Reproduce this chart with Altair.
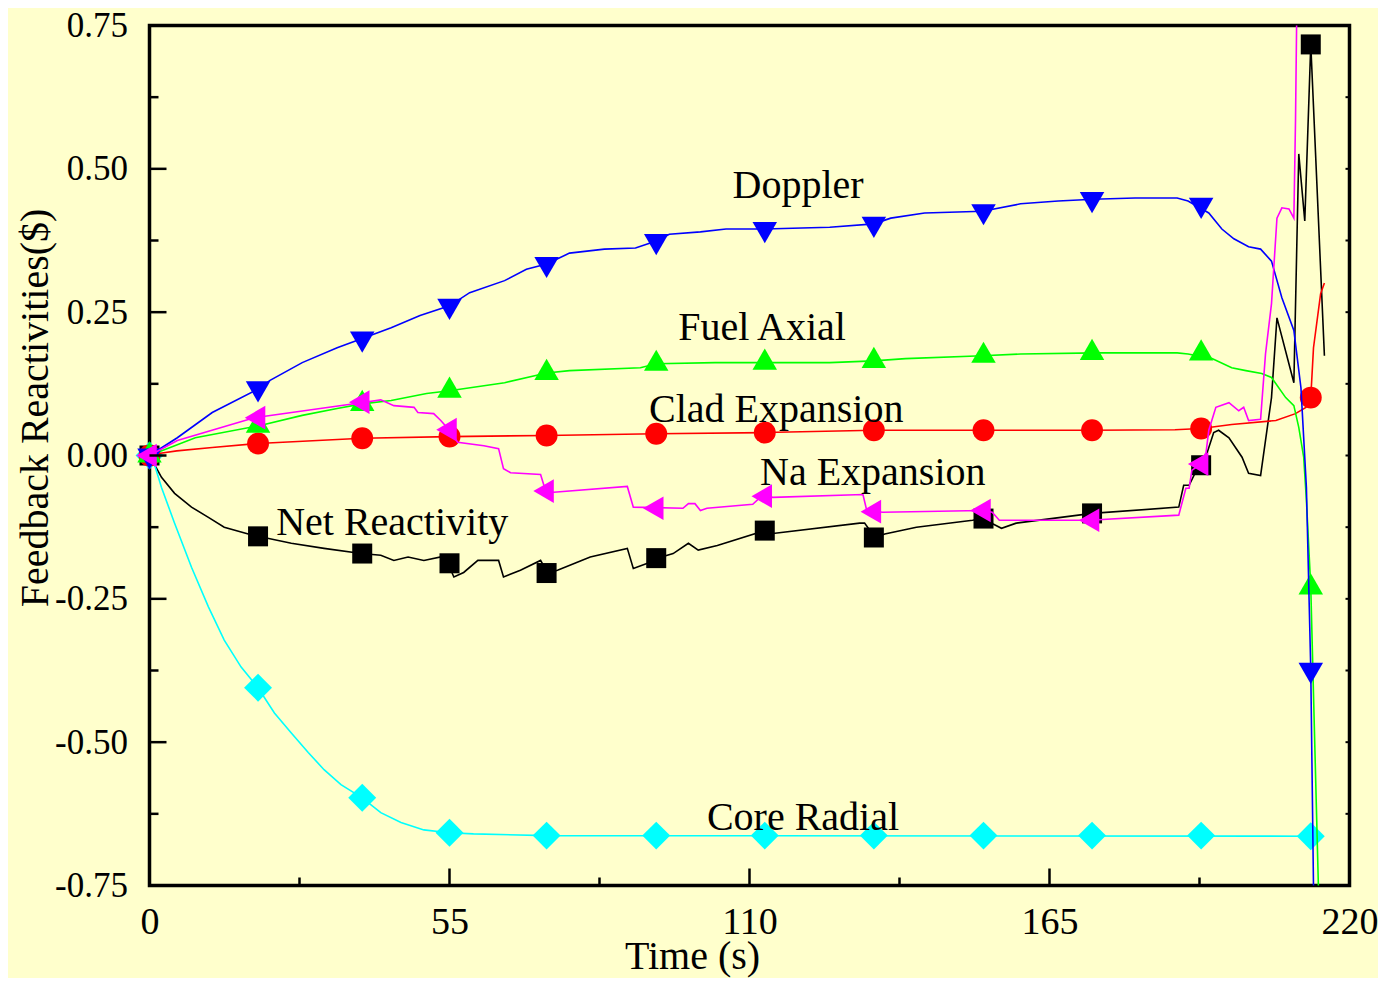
import altair as alt
import pandas as pd

# ---------------- data ----------------
# marker grid (time, s)
mk_t = [0, 19.9, 39.0, 55.0, 72.8, 92.9, 112.8, 132.8, 152.9, 172.8, 192.8, 212.9]

# Doppler
dop_t = [0, 5.1, 11.5, 20.1, 22.1, 28.0, 34.4, 39.0, 44.3, 49.6, 55.0, 58.7, 65.1, 69.1, 72.8, 77.0,
         83.4, 89.1, 92.9, 95.3, 101.0, 105.7, 112.8, 124.7, 132.8, 135.9, 142.1, 152.7, 159.7, 166.6,
         173.0, 180.7, 188.4, 190.4, 194.2, 196.6, 198.8, 201.5, 203.7, 205.7, 207.6, 209.8, 211.1,
         212.1, 212.9, 213.4]
dop_v = [0, 0.031, 0.075, 0.117, 0.131, 0.162, 0.188, 0.204, 0.223, 0.244, 0.261, 0.284, 0.305, 0.325,
         0.334, 0.353, 0.360, 0.362, 0.374, 0.386, 0.390, 0.395, 0.395, 0.398, 0.404, 0.414, 0.423,
         0.426, 0.439, 0.444, 0.447, 0.449, 0.449, 0.444, 0.423, 0.395, 0.378, 0.364, 0.360, 0.339,
         0.275, 0.218, 0.118, -0.056, -0.374, -0.752]
dop_mk = [0, 0.117, 0.204, 0.261, 0.334, 0.374, 0.395, 0.404, 0.426, 0.447, 0.437, -0.374]

# Fuel Axial
fa_t = [0, 8.4, 20.1, 28.0, 34.4, 39.0, 44.3, 50.8, 55.0, 65.1, 72.8, 77.0, 90.0, 92.9, 103.7, 124.7,
        132.8, 138.6, 152.7, 159.7, 173.6, 188.4, 190.4, 194.8, 198.4, 201.0, 203.9, 205.7, 208.3,
        209.8, 210.7, 211.6, 212.1, 212.9, 214.3]
fa_v = [0, 0.031, 0.052, 0.070, 0.082, 0.090, 0.096, 0.108, 0.113, 0.127, 0.144, 0.148, 0.153, 0.160,
        0.162, 0.162, 0.165, 0.169, 0.174, 0.177, 0.179, 0.179, 0.177, 0.169, 0.153, 0.148, 0.143,
        0.136, 0.101, 0.087, 0.049, -0.003, -0.078, -0.230, -0.752]
fa_mk = [0, 0.052, 0.090, 0.113, 0.144, 0.160, 0.162, 0.165, 0.174, 0.179, 0.178, -0.230]

# Clad Expansion
ce_t = [0, 2.0, 5.0, 11.5, 19.9, 39.0, 54.9, 72.8, 92.9, 112.8, 132.8, 152.9, 172.8, 188.0, 192.8,
        198.4, 206.5, 210.1, 212.0, 212.9, 213.4, 214.7, 215.4]
ce_v = [0, 0.004, 0.008, 0.014, 0.021, 0.030, 0.033, 0.035, 0.038, 0.040, 0.044, 0.044, 0.044, 0.045,
        0.047, 0.054, 0.061, 0.073, 0.084, 0.101, 0.188, 0.282, 0.301]
ce_mk = [0, 0.021, 0.030, 0.033, 0.035, 0.038, 0.040, 0.044, 0.044, 0.044, 0.047, 0.101]

# Na Expansion
na_t = [0, 5.1, 19.2, 38.8, 42.4, 44.8, 48.5, 49.2, 52.1, 53.4, 54.7, 56.5, 61.3, 64.0, 64.9, 66.2,
        71.7, 72.6, 74.1, 87.6, 88.7, 97.8, 98.8, 100.0, 101.0, 102.2, 110.6, 112.3, 114.3, 130.8,
        131.5, 134.4, 152.5, 154.5, 155.8, 172.3, 188.7, 190.0, 190.6, 191.1, 192.4, 193.7, 194.2,
        195.5, 197.9, 199.7, 200.6, 201.5, 203.7, 204.6, 205.7, 206.7, 207.6, 208.9, 209.8, 210.1,
        210.3, 210.5]
na_v = [0, 0.026, 0.066, 0.092, 0.097, 0.087, 0.084, 0.075, 0.073, 0.061, 0.047, 0.023, 0.017, 0.012,
        -0.023, -0.030, -0.033, -0.061, -0.064, -0.054, -0.090, -0.092, -0.084, -0.084, -0.096,
        -0.092, -0.085, -0.070, -0.073, -0.068, -0.096, -0.099, -0.096, -0.099, -0.113, -0.113,
        -0.104, -0.057, -0.057, -0.026, -0.017, 0.005, 0.044, 0.084, 0.092, 0.078, 0.084, 0.061,
        0.063, 0.177, 0.265, 0.414, 0.432, 0.430, 0.414, 0.583, 0.748, 0.800]
na_mk_t = [0, 19.9, 39.0, 55.0, 72.8, 92.9, 112.8, 132.8, 152.9, 172.8, 192.8]
na_mk = [0, 0.066, 0.093, 0.045, -0.062, -0.092, -0.071, -0.098, -0.096, -0.113, -0.015]

# Net Reactivity
nr_t = [0, 2.2, 4.6, 7.7, 10.8, 13.7, 18.1, 19.9, 26.0, 32.0, 38.8, 42.4, 44.8, 47.4, 50.3, 53.4,
        54.7, 55.8, 57.6, 60.2, 64.0, 64.9, 68.0, 71.7, 73.0, 74.8, 80.8, 87.6, 88.7, 91.3, 93.1,
        96.0, 98.8, 100.6, 104.1, 112.8, 114.3, 130.2, 131.1, 133.0, 134.8, 140.6, 150.9, 152.7,
        156.2, 158.9, 172.8, 188.7, 189.6, 190.6, 192.4, 193.9, 195.1, 196.0, 197.9, 200.3, 201.5,
        203.7, 205.7, 206.7, 209.8, 210.7, 211.8, 212.9, 215.4]
nr_v = [0, -0.038, -0.066, -0.090, -0.108, -0.125, -0.137, -0.141, -0.153, -0.162, -0.171, -0.174,
        -0.183, -0.177, -0.183, -0.177, -0.188, -0.212, -0.204, -0.183, -0.183, -0.212, -0.200,
        -0.183, -0.205, -0.200, -0.177, -0.162, -0.197, -0.188, -0.179, -0.171, -0.153, -0.165,
        -0.157, -0.131, -0.136, -0.118, -0.118, -0.143, -0.137, -0.125, -0.113, -0.110, -0.127,
        -0.118, -0.101, -0.090, -0.052, -0.052, -0.017, 0.005, 0.040, 0.044, 0.031, -0.003, -0.031,
        -0.035, 0.101, 0.240, 0.127, 0.526, 0.409, 0.717, 0.174]
nr_mk = [0, -0.141, -0.171, -0.188, -0.205, -0.179, -0.131, -0.143, -0.110, -0.101, -0.017, 0.717]

# Core Radial
cr_t = [0, 0.7, 2.2, 4.6, 7.7, 10.8, 13.7, 16.8, 19.9, 22.9, 26.0, 29.1, 32.0, 35.1, 39.0, 42.4,
        46.1, 50.3, 54.9, 59.4, 72.8, 212.9]
cr_v = [0, -0.009, -0.056, -0.118, -0.195, -0.264, -0.322, -0.369, -0.405, -0.449, -0.484, -0.518,
        -0.548, -0.574, -0.597, -0.623, -0.640, -0.653, -0.658, -0.660, -0.663, -0.664]
cr_mk = [0, -0.405, -0.597, -0.658, -0.663, -0.663, -0.663, -0.663, -0.663, -0.663, -0.663, -0.664]

# annotations
ann_text = ["Doppler", "Fuel Axial", "Clad Expansion", "Na Expansion", "Net Reactivity", "Core Radial"]
ann_t = [118.9, 112.3, 114.9, 132.6, 44.5, 119.8]
ann_v = [0.449, 0.201, 0.059, -0.051, -0.139, -0.653]

# axis ticks
xt_major = [0, 55, 110, 165, 220]
xt_minor = [27.5, 82.5, 137.5, 192.5]
yt_major = [-0.75, -0.5, -0.25, 0.0, 0.25, 0.5, 0.75]
yt_minor = [-0.625, -0.375, -0.125, 0.125, 0.375, 0.625]

# ---------------- chart ----------------
W, H = 1200, 860
FONT = "Liberation Serif"
BG = "#FFFFCC"

xs = alt.Scale(domain=[0, 220], nice=False, zero=False)
ys = alt.Scale(domain=[-0.75, 0.75], nice=False, zero=False)

x_axis = alt.Axis(values=xt_major, grid=False, domain=False, ticks=False, tickSize=0,
                  labelFont=FONT, labelFontSize=38, labelColor="black", labelPadding=48,
                  labelBaseline="alphabetic", labelFlush=False, labelOverlap=False, labelBound=False,
                  title="Time (s)", titleFont=FONT, titleFontSize=40, titleFontWeight="normal",
                  titleColor="black", titleX=542.5, titleY=83, titleAlign="center",
                  titleBaseline="alphabetic", format="d")
y_axis = alt.Axis(values=yt_major, grid=False, domain=False, ticks=False, tickSize=0,
                  labelFont=FONT, labelFontSize=35, labelColor="black", labelPadding=22,
                  labelBaseline="middle", labelFlush=False, labelOverlap=False, labelBound=False,
                  labelExpr="replace(format(datum.value, '.2f'), '\u2212', '-')",
                  title="Feedback Reactivities($)", titleFont=FONT, titleFontSize=40,
                  titleFontWeight="normal", titleColor="black", titleAngle=270, titleX=-102.5,
                  titleY=382, titleAlign="center", titleBaseline="alphabetic")

X = alt.X("t:Q", scale=xs, axis=x_axis)
Y = alt.Y("v:Q", scale=ys, axis=y_axis)


def df(t, v):
    return pd.DataFrame({"t": t, "v": v})


series = [
    # (line t, line v, marker t, marker v, color, shape, size, xoff, yoff)
    (nr_t, nr_v, mk_t, nr_mk, "#000000", "square", 400, 0, 0),
    (cr_t, cr_v, mk_t, cr_mk, "#00FFFF", "diamond", 780, 0, 0),
    (ce_t, ce_v, mk_t, ce_mk, "#FF0000", "circle", 480, 0, 0),
    (fa_t, fa_v, mk_t, fa_mk, "#00FF00", "triangle-up", 600, 0, -3.5),
    (dop_t, dop_v, mk_t, dop_mk, "#0000FF", "triangle-down", 600, 0, 3.5),
    (na_t, na_v, na_mk_t, na_mk, "#FF00FF", "triangle-left", 560, -3, 0),
]

layers = []
for lt, lv, mt, mv, col, shp, sz, xo, yo in series:
    layers.append(alt.Chart(df(lt, lv)).mark_line(color=col, strokeWidth=1.6, clip=True)
                  .encode(x=X, y=Y))
    pt_kwargs = dict(filled=True, shape=shp, size=sz, color=col, opacity=1, strokeWidth=0)
    if xo:
        pt_kwargs["xOffset"] = xo
    if yo:
        pt_kwargs["yOffset"] = yo
    layers.append(alt.Chart(df(mt, mv)).mark_point(**pt_kwargs).encode(x=X, y=Y))

# inward ticks
layers.append(alt.Chart(pd.DataFrame({"v": yt_major})).mark_rule(color="black", strokeWidth=2.5)
              .encode(y=Y, x=alt.value(0), x2=alt.value(17)))
layers.append(alt.Chart(pd.DataFrame({"v": yt_minor})).mark_rule(color="black", strokeWidth=2.5)
              .encode(y=Y, x=alt.value(0), x2=alt.value(9)))
layers.append(alt.Chart(pd.DataFrame({"v": yt_major + yt_minor})).mark_rule(color="black", strokeWidth=2)
              .encode(y=Y, x=alt.value(W - 4), x2=alt.value(W)))
layers.append(alt.Chart(pd.DataFrame({"t": xt_major})).mark_rule(color="black", strokeWidth=2.5)
              .encode(x=X, y=alt.value(H), y2=alt.value(H - 17)))
layers.append(alt.Chart(pd.DataFrame({"t": xt_minor})).mark_rule(color="black", strokeWidth=2.5)
              .encode(x=X, y=alt.value(H), y2=alt.value(H - 8)))

# labels
ann = pd.DataFrame({"t": ann_t, "v": ann_v, "label": ann_text})
layers.append(alt.Chart(ann).mark_text(font=FONT, fontSize=40, color="black", align="center",
                                       baseline="alphabetic")
              .encode(x=X, y=Y, text="label:N"))

chart = (alt.layer(*layers)
         .properties(width=W, height=H, background=BG,
                     padding={"left": 141.5, "top": 17.5, "right": 28.5, "bottom": 92.5},
                     autosize=alt.AutoSizeParams(type="none"))
         .configure_view(stroke="black", strokeWidth=3.5, fill=BG))

chart.save("out.html", embed_options={"renderer": "svg", "actions": False})
